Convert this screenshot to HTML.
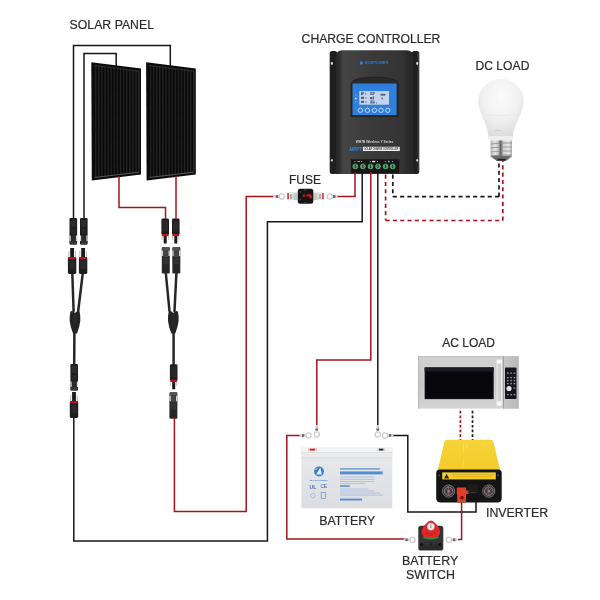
<!DOCTYPE html>
<html><head><meta charset="utf-8">
<style>
html,body{margin:0;padding:0;background:#fff;}
svg{display:block;}
text{font-family:"Liberation Sans",sans-serif;}
</style></head>
<body>
<svg width="600" height="600" viewBox="0 0 600 600">
<defs>
<pattern id="cells" x="0.5" y="0" width="3.1" height="12" patternUnits="userSpaceOnUse">
<rect width="3.1" height="12" fill="#080808"/>
<rect x="1.6" width="1.2" height="12" fill="#262626"/>
<rect y="11.5" width="3.1" height="0.5" fill="#151515"/>
</pattern>
<linearGradient id="ctrlBody" x1="0" y1="0" x2="1" y2="0">
<stop offset="0" stop-color="#262626"/><stop offset="0.04" stop-color="#2c2c2c"/><stop offset="0.1" stop-color="#454545"/><stop offset="0.2" stop-color="#424242"/><stop offset="0.45" stop-color="#3a3a3a"/><stop offset="0.85" stop-color="#343434"/><stop offset="0.93" stop-color="#2a2a2a"/><stop offset="1" stop-color="#262626"/>
</linearGradient>
<radialGradient id="bulbG" cx="0.5" cy="0.3" r="0.7">
<stop offset="0" stop-color="#fbfbfb"/><stop offset="0.55" stop-color="#f1f1f1"/><stop offset="1" stop-color="#d9d9d9"/>
</radialGradient>
<linearGradient id="neckG" x1="0" y1="0" x2="1" y2="0">
<stop offset="0" stop-color="#d8d8d8"/><stop offset="0.4" stop-color="#f4f4f4"/><stop offset="1" stop-color="#d4d4d4"/>
</linearGradient>
<linearGradient id="screwG" x1="0" y1="0" x2="1" y2="0">
<stop offset="0" stop-color="#b8b8b8"/><stop offset="0.2" stop-color="#e6e6e6"/><stop offset="0.35" stop-color="#c8c8c8"/><stop offset="0.47" stop-color="#5a5a5a"/><stop offset="0.6" stop-color="#d0d0d0"/><stop offset="0.85" stop-color="#e8e8e8"/><stop offset="1" stop-color="#b0b0b0"/>
</linearGradient>
<linearGradient id="steelG" x1="0" y1="0" x2="0" y2="1">
<stop offset="0" stop-color="#d2d2d2"/><stop offset="0.5" stop-color="#c6c6c6"/><stop offset="1" stop-color="#d4d4d4"/>
</linearGradient>
<linearGradient id="steelR" x1="0" y1="0" x2="1" y2="0">
<stop offset="0" stop-color="#c8c8c8"/><stop offset="1" stop-color="#b9b9b9"/>
</linearGradient>
<linearGradient id="yellowG" x1="0" y1="0" x2="0" y2="1">
<stop offset="0" stop-color="#f6d438"/><stop offset="1" stop-color="#f3cb2a"/>
</linearGradient>
<linearGradient id="battG" x1="0" y1="0" x2="0" y2="1">
<stop offset="0" stop-color="#e9eaec"/><stop offset="1" stop-color="#dcdde0"/>
</linearGradient>
<g id="ringH">
<rect x="-11" y="-1.2" width="5" height="2.4" fill="#b9b9b9"/>
<rect x="-8" y="-1" width="2" height="2" fill="#555"/>
<circle cx="-2.5" cy="0" r="2.6" fill="#fff" stroke="#c4c4c4" stroke-width="1.3"/>
</g>

<g id="fDown">
<rect x="-3.8" y="0" width="7.6" height="26.5" rx="1.2" fill="#1c1c1c"/>
<rect x="-2.6" y="2" width="5.2" height="7" fill="#2c2c2c"/>
<rect x="-2.6" y="11" width="5.2" height="5" fill="#272727"/>
<rect x="-3.8" y="17.5" width="1.3" height="5.5" fill="#d6d6d6"/>
<rect x="2.5" y="17.5" width="1.3" height="5.5" fill="#d6d6d6"/>
<rect x="-2.2" y="17" width="4.4" height="7" fill="#2a2a2a"/>
<rect x="-3.4" y="23.5" width="6.8" height="3" fill="#383838"/>
</g>
<g id="fUp">
<rect x="-4" y="0" width="8" height="26.5" rx="1.2" fill="#2a2a2a"/>
<rect x="-3.4" y="0" width="6.8" height="3.2" fill="#555"/>
<rect x="-4" y="3.5" width="1.4" height="5.5" fill="#d6d6d6"/>
<rect x="2.6" y="3.5" width="1.4" height="5.5" fill="#d6d6d6"/>
<rect x="-2.3" y="3" width="4.6" height="7" fill="#444"/>
<rect x="-2.6" y="11" width="5.2" height="6" fill="#333"/>
<rect x="-2.6" y="18" width="5.2" height="7" fill="#262626"/>
</g>
<g id="mUp">
<rect x="-1.9" y="0" width="3.8" height="9" fill="#1a1a1a"/>
<rect x="-3.6" y="3" width="0.8" height="6" fill="#aaa"/>
<rect x="2.8" y="3" width="0.8" height="6" fill="#aaa"/>
<rect x="-4.2" y="9" width="8.4" height="17" rx="1.4" fill="#1e1e1e"/>
<rect x="-3.4" y="9.3" width="6.8" height="2" fill="#c4161c"/>
<rect x="-2.8" y="13" width="5.6" height="8" fill="#2a2a2a"/>
</g>
<g id="mDown">
<rect x="-3.8" y="0" width="7.6" height="16.5" rx="1.4" fill="#1c1c1c"/>
<rect x="-2.8" y="2" width="5.6" height="11" fill="#292929"/>
<rect x="-3.4" y="15.5" width="6.8" height="2.2" fill="#c4161c"/>
<rect x="-1.5" y="17.5" width="3" height="7.5" fill="#1a1a1a"/>
<rect x="-3.4" y="17.5" width="0.7" height="4" fill="#aaa"/>
<rect x="2.7" y="17.5" width="0.7" height="4" fill="#aaa"/>
</g>
<g id="yJ">
<path d="M-4.6,0.5 Q-2.5,-0.8 0,2 Q2.5,-0.8 4.6,0.5 Q5.6,5 5.3,10 Q4.6,16 2,22.5 L-2,22.5 Q-4.6,16 -5.3,10 Q-5.6,5 -4.6,0.5 Z" fill="#242424"/>
<path d="M-0.3,3 L0.3,3 L0.3,12 L-0.3,12Z" fill="#3a3a3a"/>
</g>
</defs>
<rect width="600" height="600" fill="#fff"/>

<!-- labels -->
<g font-size="12.6" fill="#2a2a2a" stroke="#2a2a2a" stroke-width="0.2" opacity="0.999">
<text transform="translate(69.59 28.75) scale(0.975 1)">SOLAR PANEL</text>
<text transform="translate(301.59 43.40) scale(0.968 1)">CHARGE CONTROLLER</text>
<text transform="translate(475.49 69.90) scale(0.963 1)">DC LOAD</text>
<text transform="translate(289.00 183.90) scale(0.955 1)">FUSE</text>
<text transform="translate(442.20 346.90) scale(0.954 1)">AC LOAD</text>
<text transform="translate(319.27 525.20) scale(0.983 1)">BATTERY</text>
<text transform="translate(486.01 517.20) scale(0.982 1)">INVERTER</text>
<text transform="translate(401.97 564.90) scale(0.988 1)">BATTERY</text>
<text transform="translate(406.08 579.20) scale(0.986 1)">SWITCH</text>
</g>


<!-- solar panels -->
<g id="panel1">
<polygon points="91.3,62.3 141,68.5 141,174.6 91.8,180.4" fill="#0b0b0b"/>
<polygon points="93.3,65 139,70.8 139,172.3 93.6,177.5" fill="url(#cells)"/>
<polyline points="93.6,65.4 139.2,71.1 139.2,171" fill="none" stroke="#4a4a4a" stroke-width="0.6"/>
<polyline points="94.5,177.5 139.3,172.2" fill="none" stroke="#7a7a7a" stroke-width="0.7"/>
</g>
<use href="#panel1" transform="translate(54.8 0)"/>


<!-- MC4 chains -->
<g fill="none" stroke="#262626" stroke-width="2.5" stroke-linecap="round">
<path d="M72.3,273 L73.6,311"/>
<path d="M82.8,273 L78.2,311"/>
<path d="M74.4,330 L74.2,364"/>
<path d="M165.8,273 L169.5,311"/>
<path d="M176.4,273 L174.5,311"/>
<path d="M173.6,330 L173.6,364"/>
</g>
<use href="#fDown" transform="translate(73.3 218)"/>
<use href="#fDown" transform="translate(83.8 218)"/>
<use href="#mUp" transform="translate(72.1 248)"/>
<use href="#mUp" transform="translate(83.1 248)"/>
<use href="#yJ" transform="translate(75 311)"/>
<use href="#fDown" transform="translate(74.2 364)"/>
<use href="#mUp" transform="translate(74 392)"/>

<use href="#mDown" transform="translate(165.2 218.5)"/>
<use href="#mDown" transform="translate(175.8 218.5)"/>
<use href="#fUp" transform="translate(165.8 247)"/>
<use href="#fUp" transform="translate(176.3 247)"/>
<use href="#yJ" transform="translate(173.3 311)"/>
<use href="#mDown" transform="translate(173.7 364.3)"/>
<use href="#fUp" transform="translate(173.4 392.3)"/>


<!-- charge controller -->
<g id="ctrl">
<rect x="329.7" y="51" width="7.5" height="123" rx="2.5" fill="#1e1e1e"/>
<rect x="411.8" y="51" width="7.5" height="123" rx="2.5" fill="#1e1e1e"/>
<rect x="417.6" y="53" width="1" height="118" fill="#4a4a4a"/>
<ellipse cx="331.9" cy="63.5" rx="1" ry="1.4" fill="#e6e6e6"/>
<ellipse cx="417.2" cy="63.5" rx="1" ry="1.4" fill="#e6e6e6"/>
<ellipse cx="331.9" cy="160.3" rx="1" ry="1.4" fill="#d0d0d0"/>
<ellipse cx="417.2" cy="160.3" rx="1" ry="1.4" fill="#d0d0d0"/>
<path d="M335.8,57 Q335.8,50.2 342.5,50.2 L406.5,50.2 Q413.3,50.2 413.3,57 L413.3,174 L335.8,174 Z" fill="url(#ctrlBody)"/>
<path d="M351,84 Q351.5,77.5 374.6,77 Q397.7,77.5 398.2,84 L398.2,116.5 L351,116.5 Z" fill="#2a2a2a" stroke="#1e1e1e" stroke-width="0.8"/>
<rect x="352.5" y="83.5" width="44.1" height="31.5" fill="#2f7fdc"/>
<rect x="359.3" y="91.1" width="29.7" height="13.6" fill="#c6d2e6"/>
<g fill="#4f5f96">
<path d="M361,92.3 L364.5,92.3 L362.5,95 L361,95Z"/><rect x="365" y="93.5" width="1.5" height="0.8"/>
<rect x="370" y="92.3" width="5" height="1.2"/><rect x="370" y="94" width="4" height="0.8"/>
<rect x="380.5" y="93.8" width="5" height="1.8"/>
<rect x="361" y="96.8" width="3" height="2.2"/><rect x="365" y="97.5" width="1.5" height="0.8"/>
<rect x="370" y="97" width="2.5" height="2.4"/><rect x="373" y="96.2" width="1" height="3.2"/>
<rect x="381.5" y="97.5" width="1.3" height="1.8"/>
<rect x="361" y="100.8" width="3" height="2.2"/><rect x="365" y="101.5" width="1.5" height="0.8"/>
<rect x="370" y="100.6" width="4.5" height="1"/><rect x="370" y="102.2" width="5" height="1.2"/><rect x="376" y="102.5" width="1" height="1"/>
</g>
<g fill="none" stroke="#eaf2fc" stroke-width="0.75">
<circle cx="360.4" cy="110.3" r="2.2"/><circle cx="367.4" cy="110.3" r="2.2"/><circle cx="374.4" cy="110.3" r="2.2"/><circle cx="381" cy="110.3" r="2.2"/><circle cx="387.8" cy="110.3" r="2.2"/>
</g>
<g fill="#9fc3ee"><rect x="355.2" y="94.5" width="1.1" height="1"/><rect x="355.2" y="101.5" width="1.1" height="1"/></g>
<rect x="355" y="97.7" width="1.5" height="1.5" fill="#f4f8ff"/>
<circle cx="361.4" cy="63" r="1.7" fill="#2f80dc"/>
<text x="365" y="64.2" font-size="3.4" font-weight="bold" fill="#2f78d0" textLength="23.3" lengthAdjust="spacingAndGlyphs">BOXPOWER</text>
<text x="355.8" y="143" font-size="3.2" font-weight="bold" fill="#d6d6d6" textLength="37.5" lengthAdjust="spacingAndGlyphs">WH7B  Wireless  Y  Series</text>
<text x="349.4" y="151.3" font-size="6.2" font-weight="bold" font-style="italic" fill="#2f86e0" textLength="12.8" lengthAdjust="spacingAndGlyphs">MPPT</text>
<rect x="362.9" y="146.8" width="36.8" height="4.2" fill="#f2f2f2"/>
<text x="364.3" y="150.1" font-size="3" font-weight="bold" fill="#3a3a3a" textLength="34" lengthAdjust="spacingAndGlyphs">SOLAR CHARGE CONTROLLER</text>
<rect x="351" y="159.3" width="48.2" height="14" fill="#161616"/>
<g fill="#4f9a66" stroke="#7fc494" stroke-width="0.5">
<circle cx="355.3" cy="166.4" r="2.5"/><circle cx="362.9" cy="166.4" r="2.5"/><circle cx="370.5" cy="166.4" r="2.5"/><circle cx="378" cy="166.4" r="2.5"/><circle cx="385.6" cy="166.4" r="2.5"/><circle cx="392.7" cy="166.4" r="2.5"/>
</g>
<g fill="#173a22">
<rect x="354.8" y="164.6" width="1" height="3.6"/><rect x="362.4" y="164.6" width="1" height="3.6"/><rect x="370" y="164.6" width="1" height="3.6"/><rect x="377.5" y="164.6" width="1" height="3.6"/><rect x="385.1" y="164.6" width="1" height="3.6"/><rect x="392.2" y="164.6" width="1" height="3.6"/>
</g>
<g fill="#aaa"><rect x="354.5" y="161" width="1" height="1"/><rect x="357.5" y="161" width="2.5" height="1"/><rect x="361" y="161" width="1" height="1"/><rect x="369.8" y="161" width="1" height="1"/><rect x="372.2" y="160.8" width="3" height="1.5" fill="#e8e8e8"/><rect x="377" y="161" width="1" height="1"/><rect x="384.8" y="161" width="1" height="1"/><rect x="388" y="160.8" width="1.6" height="1.5"/><rect x="392" y="161" width="1" height="1"/></g>
</g>

<!-- black wires -->
<g fill="none" stroke="#161616" stroke-width="1.5">
<polyline points="73.5,218 73.5,45.5 170.3,45.5 170.3,66"/>
<polyline points="84,218 84,53.5 116.2,53.5 116.2,66"/>
<polyline points="73.8,418 73.8,540.9 267.4,540.9 267.4,221.8 362.2,221.8 362.2,173"/>
<polyline points="377.8,172 377.8,427"/>
<polyline points="392,435.5 407.8,435.5 407.8,512 476,512 476,498"/>
</g>
<!-- red wires -->
<g fill="none" stroke="#a3151d" stroke-width="1.5">
<polyline points="119,176 119,207.5 165.5,207.5 165.5,219"/>
<polyline points="176,176 176,219"/>
<polyline points="174.4,418 174.4,511.6 246.2,511.6 246.2,196.5 274,196.5"/>
<polyline points="337,196.6 355,196.6 355,172"/>
<polyline points="370.8,172 370.8,360 316.8,360 316.8,427"/>
<polyline points="300,435.5 286.8,435.5 286.8,539 405,539"/>
<polyline points="461.6,501 461.6,539.5 458,539.5"/>
</g>
<!-- dashed -->
<g fill="none" stroke-width="1.7">
<g stroke="#1a1a1a" stroke-dasharray="4.1,3.2">
<path d="M392.8,174.6 L392.8,196.7"/>
<path d="M392.8,196.7 L499,196.7"/>
<path d="M499,196.7 L499,160.5"/>
</g>
<g stroke="#a8141c" stroke-dasharray="4.1,3.2">
<path d="M385.6,174.6 L385.6,220.5"/>
<path d="M385.6,220.5 L502.8,220.5"/>
<path d="M502.8,220.5 L502.8,160.5"/>
</g>
<g stroke-dasharray="2.7,2">
<path stroke="#a8141c" d="M460.4,410.8 L460.4,440"/>
<path stroke="#1a1a1a" d="M472.5,410.8 L472.5,440"/>
</g>
</g>


<!-- fuse -->
<g id="fuse">
<rect x="273" y="195.3" width="6" height="2.4" fill="#d2d2d2"/>
<rect x="275.8" y="195" width="2.4" height="3" fill="#6f6f6f"/>
<circle cx="281.6" cy="196.5" r="2.6" fill="#fff" stroke="#cbcbcb" stroke-width="1.3"/>
<rect x="286.5" y="192" width="11.5" height="8.2" rx="1.5" fill="#e9e9e9"/>
<rect x="287.2" y="193" width="1.8" height="6.2" rx="0.6" fill="#c9303a" opacity="0.85"/>
<rect x="290" y="194" width="2.2" height="5" fill="#b0b0b0"/>
<rect x="293.5" y="193.2" width="4" height="6.8" fill="#c8c8c8"/>
<rect x="313" y="192" width="11.5" height="8.2" rx="1.5" fill="#e9e9e9"/>
<rect x="322" y="193" width="1.8" height="6.2" rx="0.6" fill="#c9303a" opacity="0.85"/>
<rect x="318.8" y="194" width="2.2" height="5" fill="#b0b0b0"/>
<rect x="313.5" y="193.2" width="4" height="6.8" fill="#c8c8c8"/>
<path d="M300,188.7 L311,188.7 Q313.3,188.7 313.3,191 L313.3,201.5 Q313.3,203.8 311,203.8 L300,203.8 Q297.8,203.8 297.8,201.5 L297.8,191 Q297.8,188.7 300,188.7 Z" fill="#151515"/>
<circle cx="305.2" cy="190" r="0.5" fill="#aaa"/><circle cx="305.2" cy="202.5" r="0.5" fill="#aaa"/>
<circle cx="300.3" cy="192" r="0.5" fill="#999"/><circle cx="300.3" cy="199.8" r="0.5" fill="#999"/>
<circle cx="303.8" cy="195.8" r="1.3" fill="#e0101a"/>
<path d="M306,195.2 Q308,193.8 310.2,194.3 Q312.3,195 312,197.3 Q311.5,198.8 310.3,198.6 L309.2,196.6 Q308,195.9 306.3,196.6 Z" fill="#e0101a"/>
<circle cx="329.7" cy="196.5" r="2.6" fill="#fff" stroke="#cbcbcb" stroke-width="1.3"/>
<rect x="332.2" y="195.3" width="5.5" height="2.4" fill="#d2d2d2"/>
<rect x="333" y="195" width="2.4" height="3" fill="#6f6f6f"/>
</g>

<!-- DC load bulb -->
<g id="bulb">
<path d="M488.6,139 C488.6,127 481.5,117 479,107 A22.7,22.7 0 1 1 523,107 C520.5,117 512.6,127 512.6,139 Z" fill="url(#bulbG)"/>
<path d="M484.5,114.5 Q501,116.5 518.5,114.5" fill="none" stroke="#e0e0e0" stroke-width="0.6"/>
<rect x="494" y="130" width="8" height="0.8" fill="#cfcfcf"/>
<path d="M488.6,136 L512.6,136 L512.6,138.5 Q512.4,141 510,141 L491.2,141 Q488.8,141 488.6,138.5 Z" fill="#efefef"/>
<rect x="490.6" y="140.5" width="21.4" height="17" fill="url(#screwG)"/>
<g fill="none" stroke="#8a8a8a" stroke-width="1" opacity="0.8">
<path d="M490.6,144 Q501,142.5 512,143"/><path d="M490.6,148 Q501,146.5 512,147"/><path d="M490.6,152 Q501,150.5 512,151"/><path d="M490.6,156 Q501,154.5 512,155"/>
</g>
<path d="M490.8,157.3 L511.8,157.3 L506.5,160.6 L496.5,160.6 Z" fill="#9a9a9a"/>
<rect x="496.5" y="159.2" width="9.5" height="1.6" fill="#333"/>
</g>
<path d="M491,155.7 L511.5,155.7 L506.5,160.2 L496,160.2 Z" fill="#6a6a6a"/>
<rect x="497.5" y="158.8" width="8" height="1.6" fill="#1e1e1e"/>
</g>

<!-- AC load microwave -->
<g id="micro">
<rect x="418.2" y="356.2" width="100.5" height="52.4" fill="url(#steelG)"/>
<rect x="418.2" y="356.2" width="100.5" height="1" fill="#bdbdbd"/>
<rect x="418.2" y="356.2" width="1" height="52.4" fill="#b4b4b4"/>
<rect x="503.4" y="356.2" width="15.3" height="52.4" fill="url(#steelR)"/>
<rect x="503.1" y="356.2" width="0.7" height="52.4" fill="#8f8f8f"/>
<rect x="423.8" y="366.6" width="70.5" height="33.2" fill="#e6e6e6"/>
<rect x="424.6" y="367.4" width="69.1" height="31.8" fill="#07070b"/>
<rect x="424.6" y="367.4" width="69.1" height="4" fill="#1a1b24"/>
<rect x="426" y="372" width="66" height="26" fill="none" stroke="#15151b" stroke-width="0.6"/>
<rect x="496.5" y="359.4" width="5.6" height="46.6" rx="1.4" fill="#ececec"/>
<rect x="497.6" y="364" width="3.4" height="37" fill="#cfcfcf"/>
<rect x="496.8" y="360" width="5" height="3" rx="1" fill="#fafafa"/>
<rect x="496.8" y="402.5" width="5" height="3" rx="1" fill="#fafafa"/>
<rect x="505" y="367.5" width="11.5" height="31.5" rx="0.8" fill="#15151a"/>
<g fill="#9a9aa4">
<rect x="507" y="372.5" width="1.6" height="1.3"/><rect x="510.3" y="372.5" width="1.6" height="1.3"/><rect x="513.6" y="372.5" width="1.6" height="1.3"/>
<rect x="507" y="377" width="1.6" height="1.3"/><rect x="510.3" y="377" width="1.6" height="1.3"/><rect x="513.6" y="377" width="1.6" height="1.3"/>
<rect x="507" y="380" width="1.6" height="1.3"/><rect x="510.3" y="380" width="1.6" height="1.3"/><rect x="513.6" y="380" width="1.6" height="1.3"/>
<rect x="507" y="383" width="1.6" height="1.3"/><rect x="510.3" y="383" width="1.6" height="1.3"/><rect x="513.6" y="383" width="1.6" height="1.3"/>
<rect x="513.6" y="387.5" width="1.6" height="1.3"/>
<rect x="507" y="394" width="1.6" height="1.3"/><rect x="510.3" y="394" width="1.6" height="1.3"/><rect x="513.6" y="394" width="1.6" height="1.3"/>
</g>
<circle cx="509" cy="388.5" r="2.6" fill="#e2e2e2"/>
</g>

<!-- inverter -->
<g id="inverter">
<path d="M447.5,439.7 L490,439.7 Q492.7,439.7 493.5,442 L500.2,470.3 L437.8,470.3 L444.3,442 Q445,439.7 447.5,439.7 Z" fill="url(#yellowG)"/>
<g fill="#f9e48a" opacity="0.55"><rect x="463" y="443" width="1.2" height="9"/><rect x="466.3" y="443" width="1.2" height="5"/><rect x="484" y="443" width="0.8" height="4"/><rect x="463" y="458" width="0.6" height="8"/></g>
<path d="M436.2,473 Q436.2,469.5 439.7,469.5 L498.2,469.5 Q501.7,469.5 501.7,473 L501.7,498 Q501.7,502.5 497.2,502.5 L440.7,502.5 Q436.2,502.5 436.2,498 Z" fill="#141414"/>
<rect x="442.2" y="472.4" width="53.6" height="7" fill="#f4cc2c"/>
<path d="M444,478.4 L446.6,473.8 L449.2,478.4 Z" fill="#2a2a2a"/>
<rect x="452" y="474.3" width="42" height="0.9" fill="#c9a21e" opacity="0.7"/>
<rect x="452" y="476.4" width="40" height="0.8" fill="#c9a21e" opacity="0.6"/>
<circle cx="439.3" cy="475.3" r="0.9" fill="#555"/>
<circle cx="498.2" cy="475.3" r="0.9" fill="#555"/>
<g id="fanL">
<circle cx="448.6" cy="491.1" r="6.1" fill="#2a2a2a" stroke="#7a7a7a" stroke-width="0.9"/>
<circle cx="448.6" cy="491.1" r="4.3" fill="#3a3a40" stroke="#b8b8c0" stroke-width="0.6"/>
<path d="M445.6,488.1 L451.6,494.1 M451.6,488.1 L445.6,494.1 M448.6,487 L448.6,495.2" stroke="#b85a5a" stroke-width="0.7"/>
<circle cx="448.6" cy="491.1" r="1.2" fill="#8a8aa0"/>
</g>
<use href="#fanL" transform="translate(40.2 0)"/>
<rect x="467" y="484" width="11" height="9" fill="#1c1c1c"/>
<rect x="470" y="492.5" width="6" height="0.6" fill="#555"/>
<path d="M456.8,487.6 L466,487.6 L466,490.5 L468.4,490.5 L468.4,494 L466,494 L466,502.5 L457.2,502.5 L457.2,494 L456.8,494 Z" fill="#e23d26"/>
<circle cx="462" cy="497.8" r="1.7" fill="#5a140e"/>
<circle cx="475.4" cy="498.7" r="1.6" fill="#050505" stroke="#2e2e2e" stroke-width="0.6"/>
</g>

<!-- battery -->
<g id="battery">
<rect x="301.3" y="447" width="91" height="61.3" rx="1.2" fill="url(#battG)"/>
<rect x="301.3" y="447" width="91" height="5.2" fill="#f3f3f4"/>
<rect x="301.3" y="452.2" width="91" height="5.5" fill="#ebebed"/>
<rect x="301.3" y="452" width="91" height="0.7" fill="#d9dadd"/>
<rect x="301.3" y="457.6" width="91" height="0.8" fill="#d3d4d7"/>
<rect x="308" y="448.4" width="9" height="2.4" fill="#f2c0c0"/>
<rect x="309.8" y="448.7" width="5.2" height="1.8" fill="#d52020"/>
<rect x="377.3" y="448.4" width="7.7" height="2.4" fill="#cfcfcf"/>
<rect x="379" y="448.7" width="4.3" height="1.8" fill="#2a2a2a"/>
<circle cx="319" cy="471.5" r="4.9" fill="#2f7fce"/>
<path d="M316.2,474.6 L320.3,467.6 L321.8,474.6 Z" fill="#f4f6fa"/>
<path d="M315.5,470 L317.5,468" stroke="#f4f6fa" stroke-width="0.8"/>
<text x="310.3" y="480.6" font-size="2.4" font-weight="bold" fill="#3f7fcc" textLength="17.3" lengthAdjust="spacingAndGlyphs">BOXPOWER</text>
<text x="309.6" y="488.6" font-size="5.5" font-weight="bold" fill="#3b67ad" textLength="6.6" lengthAdjust="spacingAndGlyphs">UL</text>
<text x="320.4" y="488.4" font-size="4.6" fill="#3b67ad" textLength="6.7" lengthAdjust="spacingAndGlyphs">CE</text>
<circle cx="312.8" cy="495.5" r="2.3" fill="none" stroke="#9ab4d8" stroke-width="0.7"/>
<rect x="321.2" y="492.5" width="4.3" height="6" fill="none" stroke="#7f9ccc" stroke-width="0.8"/>
<g fill="#3d7fd0">
<rect x="340" y="468.2" width="40" height="1.4" opacity="0.75"/>
<rect x="340" y="471.4" width="42.7" height="3" opacity="0.85"/>
<rect x="340" y="485.2" width="9.7" height="1.7" opacity="0.8"/>
<rect x="340" y="498.6" width="22" height="1.9" opacity="0.85"/>
</g>
<g fill="#8fb0dc" opacity="0.7">
<rect x="340" y="476.5" width="34.5" height="0.9"/>
<rect x="340" y="478.8" width="34.5" height="0.9"/>
<rect x="340" y="481" width="34.5" height="0.9"/>
<rect x="340" y="483" width="25" height="0.8"/>
<rect x="340" y="488.6" width="28" height="0.8"/>
<rect x="340" y="490.6" width="35" height="0.8"/>
<rect x="340" y="492.6" width="40" height="0.8"/>
<rect x="340" y="494.6" width="43" height="0.9"/>
</g>
</g>

<!-- battery switch -->
<g id="bswitch">
<path d="M421,525.7 L440.7,525.7 Q443.3,525.7 443.3,528.3 L443.3,548 Q443.3,550.6 440.7,550.6 L421,550.6 Q418.3,550.6 418.3,548 L418.3,528.3 Q418.3,525.7 421,525.7 Z" fill="#333"/>
<path d="M420,545 L442,545 L442,550 L420,550Z" fill="#2a2a2a"/>
<circle cx="421.6" cy="544.5" r="1.5" fill="#0e0e0e"/>
<circle cx="440" cy="544.5" r="1.5" fill="#0e0e0e"/>
<rect x="430.2" y="542" width="1.2" height="4" fill="#1a1a1a"/>
<ellipse cx="430.9" cy="537.2" rx="8" ry="2.3" fill="#2e8a3c"/>
<path d="M430.9,520.4 C434.5,520.8 440,527.5 440.2,532 C440.4,535.8 436.5,537.8 430.9,537.8 C425.3,537.8 421.4,535.8 421.6,532 C421.8,527.5 427.3,520.8 430.9,520.4 Z" fill="#e02828"/>
<path d="M425,534.5 Q428,531 430.9,536 Q433.8,531 436.8,534.5" fill="none" stroke="#b01818" stroke-width="0.7"/>
<circle cx="430.9" cy="526.6" r="3.6" fill="#ececf0" stroke="#b8b8c0" stroke-width="0.5"/>
<rect x="430.4" y="524.3" width="1" height="3.8" fill="#8a8a90"/>
</g>

<!-- ring terminals -->
<g id="rings">
<!-- battery top vertical rings from controller -->
<g>
<rect x="315.6" y="425" width="2.4" height="6" fill="#cfcfcf"/>
<rect x="315.4" y="428.5" width="2.8" height="2" fill="#6a6a6a"/>
<circle cx="316.8" cy="434.4" r="2.6" fill="#fff" stroke="#cdcdcd" stroke-width="1.3"/>
</g>
<g>
<rect x="376.6" y="425" width="2.4" height="6" fill="#cfcfcf"/>
<rect x="376.4" y="428.5" width="2.8" height="2" fill="#6a6a6a"/>
<circle cx="377.8" cy="434.4" r="2.6" fill="#fff" stroke="#cdcdcd" stroke-width="1.3"/>
</g>
<!-- battery side horizontal rings -->
<g>
<rect x="299.5" y="434.3" width="6" height="2.4" fill="#cfcfcf"/>
<rect x="302" y="434.1" width="2.2" height="2.8" fill="#6a6a6a"/>
<circle cx="308.6" cy="435.5" r="2.6" fill="#fff" stroke="#cdcdcd" stroke-width="1.3"/>
</g>
<g>
<circle cx="385" cy="435.5" r="2.6" fill="#fff" stroke="#cdcdcd" stroke-width="1.3"/>
<rect x="387.5" y="434.3" width="6" height="2.4" fill="#cfcfcf"/>
<rect x="389" y="434.1" width="2.2" height="2.8" fill="#6a6a6a"/>
</g>
<!-- switch rings -->
<g>
<rect x="403.5" y="538.6" width="6" height="2.4" fill="#cfcfcf"/>
<rect x="405.5" y="538.4" width="2.2" height="2.8" fill="#6a6a6a"/>
<circle cx="412.5" cy="539.8" r="2.6" fill="#fff" stroke="#cdcdcd" stroke-width="1.3"/>
</g>
<g>
<circle cx="448.8" cy="539.8" r="2.6" fill="#fff" stroke="#cdcdcd" stroke-width="1.3"/>
<rect x="451.3" y="538.6" width="6" height="2.4" fill="#cfcfcf"/>
<rect x="453" y="538.4" width="2.2" height="2.8" fill="#6a6a6a"/>
</g>
</g>

</svg>
</body></html>
